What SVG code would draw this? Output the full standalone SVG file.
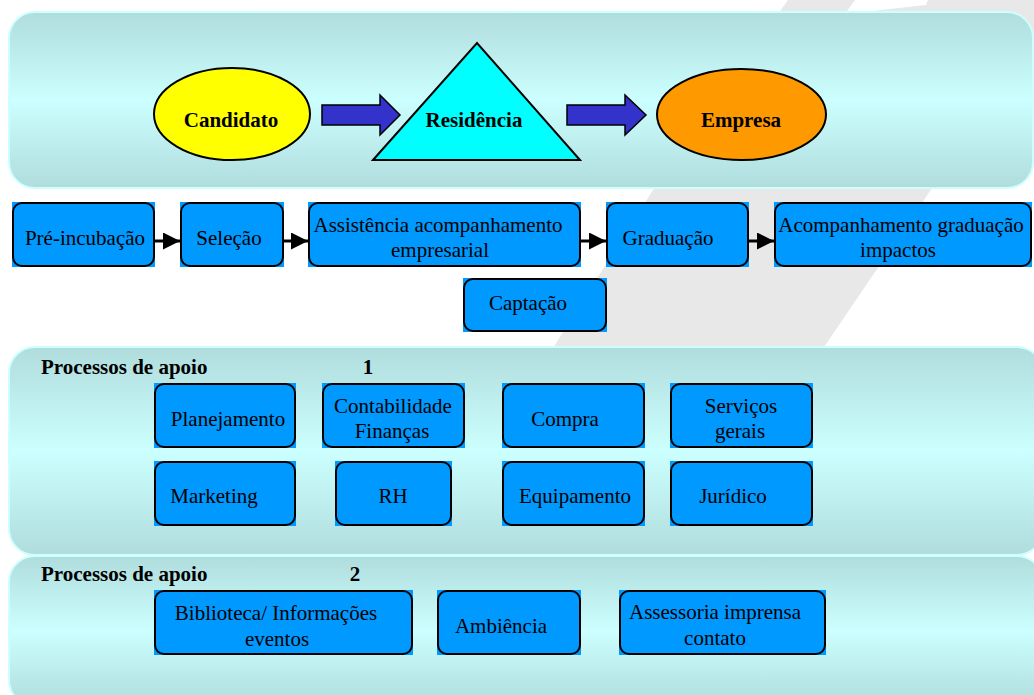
<svg xmlns="http://www.w3.org/2000/svg" width="1034" height="695" viewBox="0 0 1034 695">
<defs>
<linearGradient id="pg" x1="0" y1="0" x2="0" y2="1">
<stop offset="0" stop-color="#b0dcdc"/>
<stop offset="0.5" stop-color="#ccffff"/>
<stop offset="1" stop-color="#b0dcdc"/>
</linearGradient>
<marker id="ah" markerUnits="userSpaceOnUse" markerWidth="17" markerHeight="17" refX="17" refY="8.5" orient="auto">
<path d="M0,0 L17,8.5 L0,17 z" fill="#000"/>
</marker>
<style>
.panel{fill:url(#pg);stroke:#ccffff;stroke-width:2}
.bf{fill:#0099ff}
.bs{fill:none;stroke:#000;stroke-width:2}
.t{font-family:"Liberation Serif","Times New Roman",serif;font-size:21px;fill:#000;text-anchor:middle}
.b{font-family:"Liberation Serif","Times New Roman",serif;font-size:21px;font-weight:bold;fill:#000}
.blk{fill:#3333cc;stroke:#000;stroke-width:1.5}
.ln{stroke:#000;stroke-width:3;fill:none;marker-end:url(#ah)}
</style>
</defs>
<rect width="1034" height="695" fill="#fff"/>
<g id="stripe">
<polygon points="788,0 1060,0 822,350 552,350 558,340 653,190" fill="#e8e8e8"/>
<polygon points="855,0 928,0 926,5 845,14" fill="#fff"/>
</g>
<g id="panels">
<rect class="panel" x="9" y="12" width="1024" height="176" rx="26"/>
<rect class="panel" x="9" y="347" width="1034" height="208" rx="26"/>
<rect class="panel" x="9" y="556" width="1034" height="150" rx="26"/>
</g>
<g id="connectors">
<path class="blk" d="M322,105 H380 V95 L400,115 L380,135 V125 H322 Z"/>
<path class="blk" d="M567,105 H625 V95 L646,115 L625,135 V125 H567 Z"/>
<line class="ln" x1="155" y1="241" x2="180" y2="241"/>
<line class="ln" x1="284" y1="241" x2="308" y2="241"/>
<line class="ln" x1="581" y1="241" x2="606" y2="241"/>
<line class="ln" x1="749" y1="241" x2="774" y2="241"/>
</g>
<g id="candidato">
<ellipse cx="232" cy="114" rx="78" ry="46" fill="#ffff00" stroke="#000" stroke-width="2"/>
<text class="b" x="231" y="127" text-anchor="middle">Candidato</text>
</g>
<g id="residencia">
<polygon points="373,160 477,43 580,160" fill="#00ffff" stroke="#000" stroke-width="2"/>
<text class="b" x="474" y="127" text-anchor="middle">Residência</text>
</g>
<g id="empresa">
<ellipse cx="741.5" cy="114.5" rx="84.5" ry="45.5" fill="#ff9900" stroke="#000" stroke-width="2"/>
<text class="b" x="741" y="127" text-anchor="middle">Empresa</text>
</g>
<g id="pre-incubacao">
<rect class="bf" x="12" y="202" width="143" height="65"/>
<rect class="bs" x="13" y="203" width="141" height="63" rx="9"/>
<text class="t" x="85" y="245">Pré-incubação</text>
</g>
<g id="selecao">
<rect class="bf" x="180" y="202" width="104" height="65"/>
<rect class="bs" x="181" y="203" width="102" height="63" rx="9"/>
<text class="t" x="229" y="245">Seleção</text>
</g>
<g id="assistencia">
<rect class="bf" x="308" y="202" width="273" height="65"/>
<rect class="bs" x="309" y="203" width="271" height="63" rx="9"/>
<text class="t" x="438" y="232">Assistência acompanhamento</text>
<text class="t" x="440" y="257">empresarial</text>
</g>
<g id="graduacao">
<rect class="bf" x="606" y="202" width="143" height="65"/>
<rect class="bs" x="607" y="203" width="141" height="63" rx="9"/>
<text class="t" x="668" y="245">Graduação</text>
</g>
<g id="acompanhamento">
<rect class="bf" x="774" y="202" width="258" height="65"/>
<rect class="bs" x="775" y="203" width="256" height="63" rx="9"/>
<text class="t" x="901" y="232">Acompanhamento graduação</text>
<text class="t" x="898" y="257">impactos</text>
</g>
<g id="captacao">
<rect class="bf" x="463" y="278" width="144" height="54"/>
<rect class="bs" x="464" y="279" width="142" height="52" rx="9"/>
<text class="t" x="528" y="310">Captação</text>
</g>
<g id="apoio1-label">
<text class="b" x="41" y="374">Processos de apoio</text>
<text class="b" x="368" y="374" text-anchor="middle">1</text>
</g>
<g id="planejamento">
<rect class="bf" x="154" y="383" width="142" height="65"/>
<rect class="bs" x="155" y="384" width="140" height="63" rx="9"/>
<text class="t" x="228" y="426">Planejamento</text>
</g>
<g id="contabilidade">
<rect class="bf" x="322" y="383" width="143" height="65"/>
<rect class="bs" x="323" y="384" width="141" height="63" rx="9"/>
<text class="t" x="393" y="413">Contabilidade</text>
<text class="t" x="392" y="438">Finanças</text>
</g>
<g id="compra">
<rect class="bf" x="502" y="383" width="143" height="65"/>
<rect class="bs" x="503" y="384" width="141" height="63" rx="9"/>
<text class="t" x="565" y="426">Compra</text>
</g>
<g id="servicos">
<rect class="bf" x="670" y="383" width="143" height="65"/>
<rect class="bs" x="671" y="384" width="141" height="63" rx="9"/>
<text class="t" x="741" y="413">Serviços</text>
<text class="t" x="740" y="438">gerais</text>
</g>
<g id="marketing">
<rect class="bf" x="154" y="461" width="142" height="65"/>
<rect class="bs" x="155" y="462" width="140" height="63" rx="9"/>
<text class="t" x="214" y="503">Marketing</text>
</g>
<g id="rh">
<rect class="bf" x="335" y="461" width="117" height="65"/>
<rect class="bs" x="336" y="462" width="115" height="63" rx="9"/>
<text class="t" x="393" y="503">RH</text>
</g>
<g id="equipamento">
<rect class="bf" x="502" y="461" width="143" height="65"/>
<rect class="bs" x="503" y="462" width="141" height="63" rx="9"/>
<text class="t" x="575" y="503">Equipamento</text>
</g>
<g id="juridico">
<rect class="bf" x="670" y="461" width="143" height="65"/>
<rect class="bs" x="671" y="462" width="141" height="63" rx="9"/>
<text class="t" x="733" y="503">Jurídico</text>
</g>
<g id="apoio2-label">
<text class="b" x="41" y="581">Processos de apoio</text>
<text class="b" x="355" y="581" text-anchor="middle">2</text>
</g>
<g id="biblioteca">
<rect class="bf" x="154" y="590" width="259" height="65"/>
<rect class="bs" x="155" y="591" width="257" height="63" rx="9"/>
<text class="t" x="276" y="620">Biblioteca/ Informações</text>
<text class="t" x="277" y="646">eventos</text>
</g>
<g id="ambiencia">
<rect class="bf" x="437" y="590" width="144" height="65"/>
<rect class="bs" x="438" y="591" width="142" height="63" rx="9"/>
<text class="t" x="501" y="633">Ambiência</text>
</g>
<g id="assessoria">
<rect class="bf" x="619" y="590" width="207" height="65"/>
<rect class="bs" x="620" y="591" width="205" height="63" rx="9"/>
<text class="t" x="715" y="619">Assessoria imprensa</text>
<text class="t" x="715" y="645">contato</text>
</g>
</svg>
